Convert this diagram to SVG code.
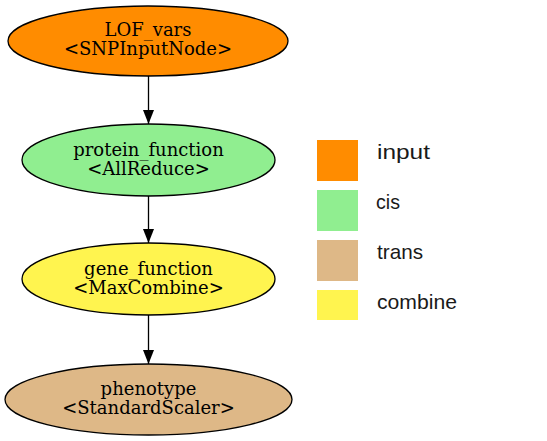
<svg xmlns="http://www.w3.org/2000/svg" width="547" height="441" viewBox="0 0 547 441">
<defs>
<style>
.node ellipse{stroke:#000;stroke-width:1.3}
.node text{font-family:"DejaVu Serif",serif;font-size:18px;text-anchor:middle;fill:#000}
.edge{stroke:#000;stroke-width:1.3;fill:none}
.leg text{font-family:"Liberation Sans",Arial,sans-serif;font-size:21px;fill:#1a1a1a}
</style>
<marker id="arr" markerWidth="14" markerHeight="12" refX="14" refY="6" orient="auto" markerUnits="userSpaceOnUse">
<path d="M0,0.5 L14,6 L0,11.5 Z" fill="#000"/>
</marker>
</defs>
<rect width="547" height="441" fill="#fff"/>
<g id="edges">
<line class="edge" x1="148.5" y1="76" x2="148.5" y2="124" marker-end="url(#arr)"/>
<line class="edge" x1="148.5" y1="196" x2="148.5" y2="243" marker-end="url(#arr)"/>
<line class="edge" x1="148.5" y1="315" x2="148.5" y2="364" marker-end="url(#arr)"/>
</g>
<g id="LOF_vars" class="node">
<ellipse cx="148" cy="41" rx="140" ry="35" fill="#ff8c00"/>
<text x="148" y="36">LOF_vars</text>
<text x="148" y="55">&lt;SNPInputNode&gt;</text>
</g>
<g id="protein_function" class="node">
<ellipse cx="148.5" cy="160" rx="126.5" ry="36" fill="#90ee90"/>
<text x="148.5" y="156">protein_function</text>
<text x="148.5" y="175">&lt;AllReduce&gt;</text>
</g>
<g id="gene_function" class="node">
<ellipse cx="148.5" cy="279" rx="126.5" ry="36" fill="#fff44f"/>
<text x="148.5" y="275">gene_function</text>
<text x="148.5" y="294">&lt;MaxCombine&gt;</text>
</g>
<g id="phenotype" class="node">
<ellipse cx="148.5" cy="399.5" rx="143.5" ry="35.5" fill="#deb887"/>
<text x="148.5" y="395">phenotype</text>
<text x="148.5" y="414">&lt;StandardScaler&gt;</text>
</g>
<g id="legend" class="leg">
<rect x="317" y="140" width="41" height="41" fill="#ff8c00"/>
<rect x="317" y="190" width="41" height="41" fill="#90ee90"/>
<rect x="317" y="240" width="41" height="41" fill="#deb887"/>
<rect x="317" y="290" width="41" height="30" fill="#fff44f"/>
<text x="377" y="159" textLength="53" lengthAdjust="spacingAndGlyphs">input</text>
<text x="376" y="209" textLength="24" lengthAdjust="spacingAndGlyphs">cis</text>
<text x="377" y="259" textLength="46" lengthAdjust="spacingAndGlyphs">trans</text>
<text x="377" y="309" textLength="80" lengthAdjust="spacingAndGlyphs">combine</text>
</g>
</svg>
